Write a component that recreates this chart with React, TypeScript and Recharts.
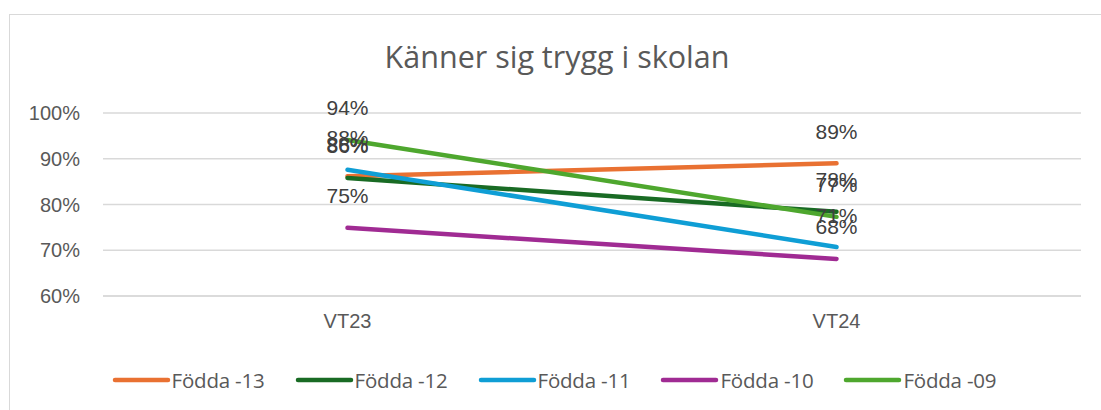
import React from 'react';
import { LineChart, Line, XAxis, YAxis, CartesianGrid, Legend, LabelList } from 'recharts';

const categories = ['VT23', 'VT24'];
const fodda13 = [0.862, 0.89];
const fodda12 = [0.858, 0.784];
const fodda11 = [0.876, 0.707];
const fodda10 = [0.749, 0.681];
const fodda09 = [0.941, 0.773];
const yTicks = [0.6, 0.7, 0.8, 0.9, 1.0];
const seriesNames = ['Födda -13', 'Födda -12', 'Födda -11', 'Födda -10', 'Födda -09'];
const seriesKeys = ['f13', 'f12', 'f11', 'f10', 'f09'];
const seriesColors = ['#E97132', '#196B24', '#0F9ED5', '#A02B93', '#4EA72E'];
const seriesValues = [fodda13, fodda12, fodda11, fodda10, fodda09];

const data = categories.map((c, i) => {
  const row: any = { cat: c };
  seriesKeys.forEach((k, j) => {
    row[k] = seriesValues[j][i];
  });
  return row;
});

const W = 1101;
const H = 410;

const renderLabel = (props: any) => {
  const { x, y, value } = props;
  return (
    <text
      x={x}
      y={y - 32}
      textAnchor="middle"
      dominantBaseline="central"
      fontSize={21}
      fontFamily="'Liberation Sans', Arial, sans-serif"
      fill="#404040"
    >
      {Math.round(value * 100)}%
    </text>
  );
};

const renderLegend = () => (
  <div
    style={{
      height: 64,
      width: W,
      display: 'flex',
      justifyContent: 'center',
      alignItems: 'center',
      paddingTop: 4,
      paddingLeft: 7,
      boxSizing: 'border-box',
      fontFamily: "'Open Sans', sans-serif",
      fontSize: 20.5,
      color: '#595959',
    }}
  >
    {seriesNames.map((n, i) => (
      <div key={n} style={{ display: 'flex', alignItems: 'center', marginLeft: i === 0 ? 0 : 30 }}>
        <svg width={59} height={8} style={{ marginRight: 1 }}>
          <line x1={3} y1={4} x2={56} y2={4} stroke={seriesColors[i]} strokeWidth={4.5} strokeLinecap="round" />
        </svg>
        <span style={{ whiteSpace: 'nowrap', letterSpacing: -0.2 }}>{n}</span>
      </div>
    ))}
  </div>
);

export default function App() {
  return (
    <div
      style={{
        position: 'absolute',
        left: 0,
        top: 0,
        width: W,
        height: H,
        overflow: 'hidden',
        background: '#ffffff',
      }}
    >
      <div
        style={{
          position: 'absolute',
          left: 8.5,
          top: 13.5,
          width: 1200,
          height: 600,
          border: '1.5px solid #d9d9d9',
          boxSizing: 'border-box',
        }}
      />
      <svg width={W} height={H} style={{ position: 'absolute', left: 0, top: 0 }}>
        <text
          x={557}
          y={68}
          textAnchor="middle"
          fontSize={30.5}
          fontFamily="'Open Sans', sans-serif"
          fill="#595959"
        >
          Känner sig trygg i skolan
        </text>
      </svg>
      <div style={{ position: 'absolute', left: 0, top: 0 }}>
        <LineChart width={W} height={H} data={data} margin={{ top: 113, right: 20, bottom: 0, left: 0 }}>
          <CartesianGrid vertical={false} stroke="#d9d9d9" strokeWidth={1.5} />
          <XAxis
            dataKey="cat"
            scale="band"
            height={50}
            tickLine={false}
            axisLine={{ stroke: '#d9d9d9', strokeWidth: 1.5 }}
            tickMargin={12}
            tick={{ fill: '#595959', fontSize: 20, fontFamily: "'Liberation Sans', Arial, sans-serif" }}
          />
          <YAxis
            width={103}
            domain={[0.6, 1]}
            ticks={yTicks}
            allowDataOverflow
            axisLine={false}
            tickLine={false}
            tickMargin={17}
            tickFormatter={(v: number) => `${Math.round(v * 100)}%`}
            tick={{ fill: '#595959', fontSize: 20, fontFamily: "'Liberation Sans', Arial, sans-serif" }}
          />
          <Legend verticalAlign="bottom" content={renderLegend} />
          {seriesKeys.map((k, i) => (
            <Line
              key={k}
              dataKey={k}
              name={seriesNames[i]}
              stroke={seriesColors[i]}
              strokeWidth={4.5}
              strokeLinecap="round"
              dot={false}
              activeDot={false}
              isAnimationActive={false}
            >
              <LabelList dataKey={k} content={renderLabel} />
            </Line>
          ))}
        </LineChart>
      </div>
    </div>
  );
}
